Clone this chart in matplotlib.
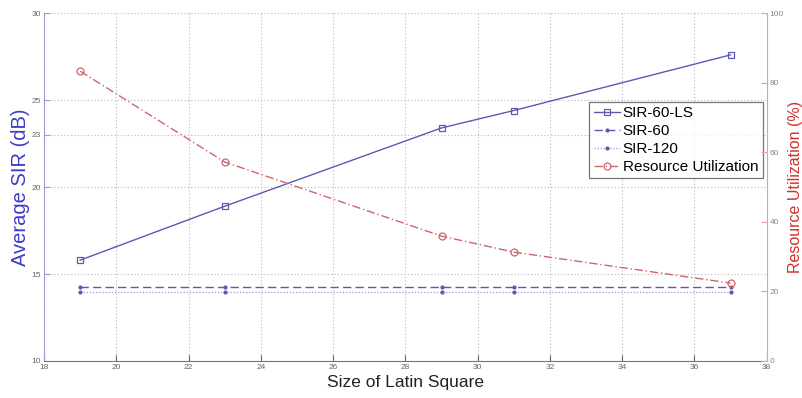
import matplotlib
matplotlib.use("Agg")
import matplotlib.pyplot as plt

plt.rcParams["font.family"] = ["Liberation Sans", "DejaVu Sans"]

# Latin square sizes and measured curves
latin_size = [19, 23, 29, 31, 37]
sir_60_ls = [15.8, 18.9, 23.4, 24.4, 27.6]
sir_60 = [14.24, 14.24, 14.24, 14.24, 14.24]
sir_120 = [13.95, 13.95, 13.95, 13.95, 13.95]
resource_util = [83.3, 57.2, 35.9, 31.3, 22.4]

x_ticks = [18, 20, 22, 24, 26, 28, 30, 32, 34, 36, 38]
sir_ticks = [10, 15, 20, 23, 25, 30]
util_ticks = [0, 20, 40, 60, 80, 100]

blue = "#5a5ab4"
red = "#d0646e"

fig = plt.figure(figsize=(8.02, 3.98), dpi=100)
ax = fig.add_axes([0.055, 0.093, 0.901, 0.874])
ax2 = ax.twinx()

ax.plot(latin_size, sir_60_ls, color=blue, lw=1.0, marker="s", ms=5,
        mfc="none", mec=blue, mew=0.9, label="SIR-60-LS")
ax.plot(latin_size, sir_60, color=blue, lw=1.0, ls=(0, (6, 3)), marker=".",
        ms=4, label="SIR-60")
ax.plot(latin_size, sir_120, color="#9a9ad0", lw=0.9, ls=(0, (1, 1.5)),
        marker=".", ms=4, mfc=blue, mec=blue, label="SIR-120")
ax2.plot(latin_size, resource_util, color=red, lw=1.0, ls=(0, (6, 2, 1, 2)),
         marker="o", ms=5, mfc="none", mec=red, mew=0.9,
         label="Resource Utilization")

ax.set_xlim(18, 38)
ax.set_ylim(10, 30)
ax2.set_ylim(0, 100)
ax.set_xticks(x_ticks)
ax.set_yticks(sir_ticks)
ax2.set_yticks(util_ticks)

ax.grid(True, ls=(0, (1, 2)), color="#b8b8b8", lw=0.8)
ax.set_axisbelow(True)

for a in (ax, ax2):
    a.spines["top"].set_visible(False)
ax.spines["right"].set_visible(False)
ax.spines["left"].set_color("#9c9cd4")
ax.spines["bottom"].set_color("#777777")
ax2.spines["left"].set_visible(False)
ax2.spines["bottom"].set_visible(False)
ax2.spines["right"].set_color("#e0a0a8")

ax.tick_params(axis="both", direction="in", labelsize=6, colors="#666666",
               length=4, pad=2)
ax.tick_params(axis="y", colors="#9c9cd4", labelcolor="#666666")
ax2.tick_params(axis="y", direction="in", labelsize=6, colors="#e0a0a8",
                labelcolor="#888888", length=4, pad=2)

ax.set_xlabel("Size of Latin Square", fontsize=12.5, color="#222222",
              labelpad=3)
ax.set_ylabel("Average SIR (dB)", fontsize=14.5, color="#3c3cc8", labelpad=1)
ax2.set_ylabel("Resource Utilization (%)", fontsize=11.5, color="#d03030",
               labelpad=3)

handles = ax.get_legend_handles_labels()[0] + ax2.get_legend_handles_labels()[0]
labels = [h.get_label() for h in handles]
leg = ax.legend(handles, labels, loc="upper right",
                bbox_to_anchor=(0.9945, 0.745), fontsize=11, frameon=True,
                fancybox=False, edgecolor="#555555", handlelength=1.7,
                handletextpad=0.2, borderpad=0.3, labelspacing=0.25,
                borderaxespad=0)
leg.get_frame().set_linewidth(0.9)
leg.set_zorder(10)

fig.savefig("out.png", dpi=100)
